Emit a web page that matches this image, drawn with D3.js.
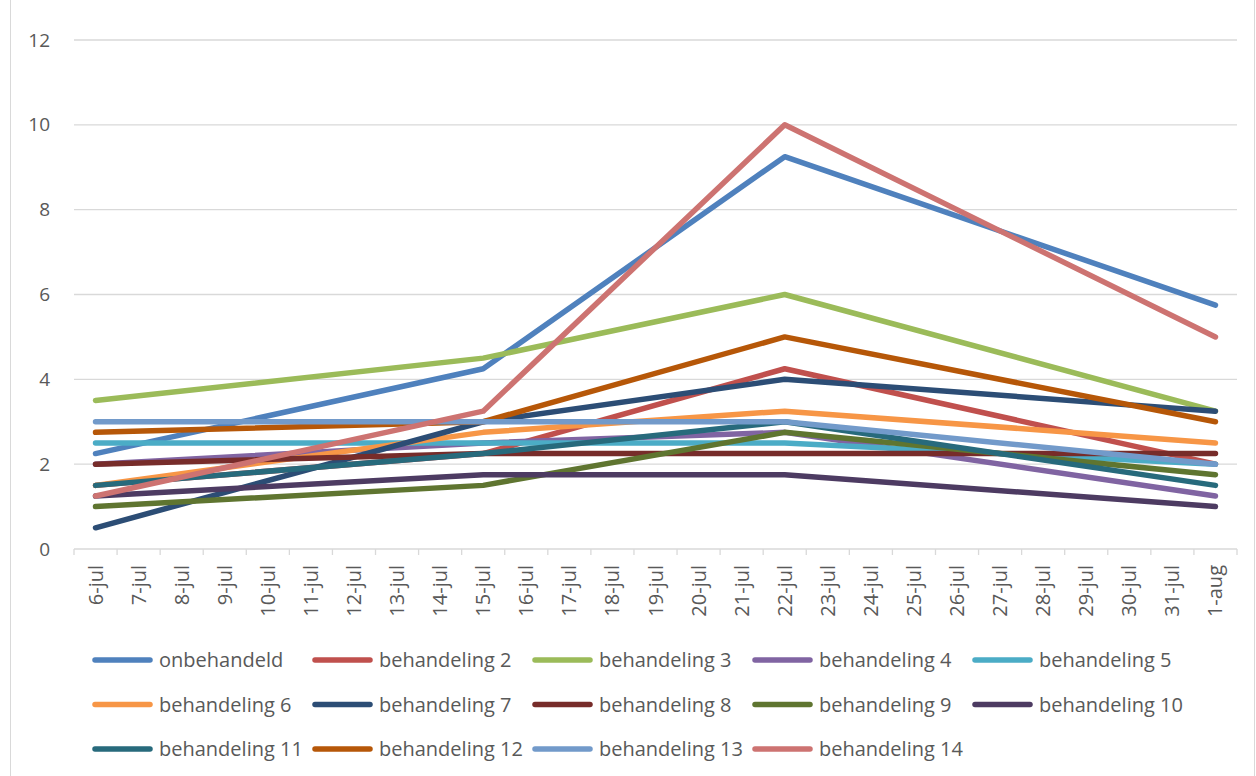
<!DOCTYPE html>
<html>
<head>
<meta charset="utf-8">
<script src="https://cdn.jsdelivr.net/npm/d3@7"></script>
<style>
  body { margin: 0; background: #fff; }
  svg { font-family: "Open Sans", "Noto Sans", sans-serif; }
</style>
</head>
<body>
<svg id="svg" width="1256" height="776"></svg>
<script>
// categories on the x axis (one per day)
const days = ["6-jul","7-jul","8-jul","9-jul","10-jul","11-jul","12-jul","13-jul","14-jul",
  "15-jul","16-jul","17-jul","18-jul","19-jul","20-jul","21-jul","22-jul","23-jul","24-jul",
  "25-jul","26-jul","27-jul","28-jul","29-jul","30-jul","31-jul","1-aug"];

// measurement dates
const sampleDays = ["6-jul", "15-jul", "22-jul", "1-aug"];

const seriesNames = ["onbehandeld","behandeling 2","behandeling 3","behandeling 4","behandeling 5",
  "behandeling 6","behandeling 7","behandeling 8","behandeling 9","behandeling 10",
  "behandeling 11","behandeling 12","behandeling 13","behandeling 14"];

const onbehandeld = [2.25, 4.25, 9.25, 5.75];
const beh2  = [1.5, 2.25, 4.25, 2.0];
const beh3  = [3.5, 4.5, 6.0, 3.25];
const beh4  = [2.0, 2.5, 2.75, 1.25];
const beh5  = [2.5, 2.5, 2.5, 2.0];
const beh6  = [1.5, 2.75, 3.25, 2.5];
const beh7  = [0.5, 3.0, 4.0, 3.25];
const beh8  = [2.0, 2.25, 2.25, 2.25];
const beh9  = [1.0, 1.5, 2.75, 1.75];
const beh10 = [1.25, 1.75, 1.75, 1.0];
const beh11 = [1.5, 2.25, 3.0, 1.5];
const beh12 = [2.75, 3.0, 5.0, 3.0];
const beh13 = [3.0, 3.0, 3.0, 2.0];
const beh14 = [1.25, 3.25, 10.0, 5.0];

const seriesValues = [onbehandeld, beh2, beh3, beh4, beh5, beh6, beh7, beh8, beh9, beh10,
  beh11, beh12, beh13, beh14];

const colors = ["#4F81BD","#C0504D","#9BBB59","#8064A2","#4BACC6","#F79646","#2C4D75",
  "#772C2A","#5F7530","#4D3B62","#276A7C","#B65708","#729ACA","#CD7371"];

const yTicks = [0, 2, 4, 6, 8, 10, 12];

const svg = d3.select("#svg");
const textColor = "#595959";
const gridColor = "#d9d9d9";

// chart border
svg.append("rect")
  .attr("x", 10.5).attr("y", -1)
  .attr("width", 1244).attr("height", 778)
  .attr("fill", "none")
  .attr("stroke", gridColor);

var plot = {left: 74, right: 1237, top: 40, bottom: 549};

var x = d3.scaleBand().domain(days).range([plot.left, plot.right]);
var y = d3.scaleLinear().domain([0, 12]).range([plot.bottom, plot.top]);

// gridlines
svg.append("g").selectAll("line")
  .data(yTicks.filter(d => d > 0))
  .enter().append("line")
    .attr("x1", plot.left).attr("x2", plot.right)
    .attr("y1", d => y(d)).attr("y2", d => y(d))
    .attr("stroke", gridColor)
    .attr("stroke-width", 1.3);

// y labels
svg.append("g").selectAll("text")
  .data(yTicks)
  .enter().append("text")
    .attr("x", 50)
    .attr("y", d => y(d))
    .attr("dy", "0.35em")
    .attr("text-anchor", "end")
    .attr("fill", textColor)
    .style("font-size", "19px")
    .text(d => d);

// x axis line and tick marks between categories
const xAxis = svg.append("g");
xAxis.append("line")
  .attr("x1", plot.left).attr("x2", plot.right)
  .attr("y1", plot.bottom).attr("y2", plot.bottom)
  .attr("stroke", gridColor).attr("stroke-width", 1.3);

xAxis.selectAll(".tick")
  .data(days.map(d => x(d)).concat([plot.right]))
  .enter().append("line")
    .attr("x1", d => d).attr("x2", d => d)
    .attr("y1", plot.bottom).attr("y2", plot.bottom + 6)
    .attr("stroke", gridColor).attr("stroke-width", 1.3);

xAxis.selectAll("text")
  .data(days)
  .enter().append("text")
    .attr("transform", d => "translate(" + (x(d) + x.bandwidth() / 2) + "," + (plot.bottom + 16) + ") rotate(-90)")
    .attr("dy", "0.35em")
    .attr("text-anchor", "end")
    .attr("fill", textColor)
    .style("font-size", "20px")
    .text(d => d);

// lines
var line = d3.line()
  .x(d => x(d.day) + x.bandwidth() / 2)
  .y(d => y(d.value));

svg.append("g").selectAll("path")
  .data(seriesValues)
  .enter().append("path")
    .attr("d", vals => line(vals.map((v, i) => ({day: sampleDays[i], value: v}))))
    .attr("fill", "none")
    .attr("stroke", (d, i) => colors[i])
    .attr("stroke-width", 5.5)
    .attr("stroke-linecap", "round")
    .attr("stroke-linejoin", "round");

// legend
const legend = svg.append("g");
const item = legend.selectAll("g")
  .data(seriesNames)
  .enter().append("g")
    .attr("transform", (d, i) => "translate(" + (95 + (i % 5) * 220) + "," + (660 + Math.floor(i / 5) * 44.5) + ")");

item.append("line")
  .attr("x1", 0).attr("x2", 55)
  .attr("stroke", (d, i) => colors[i])
  .attr("stroke-width", 5.5)
  .attr("stroke-linecap", "round");

item.append("text")
  .attr("x", 64)
  .attr("dy", "0.35em")
  .attr("fill", textColor)
  .style("font-size", "20px")
  .text(d => d);
</script>
</body>
</html>
